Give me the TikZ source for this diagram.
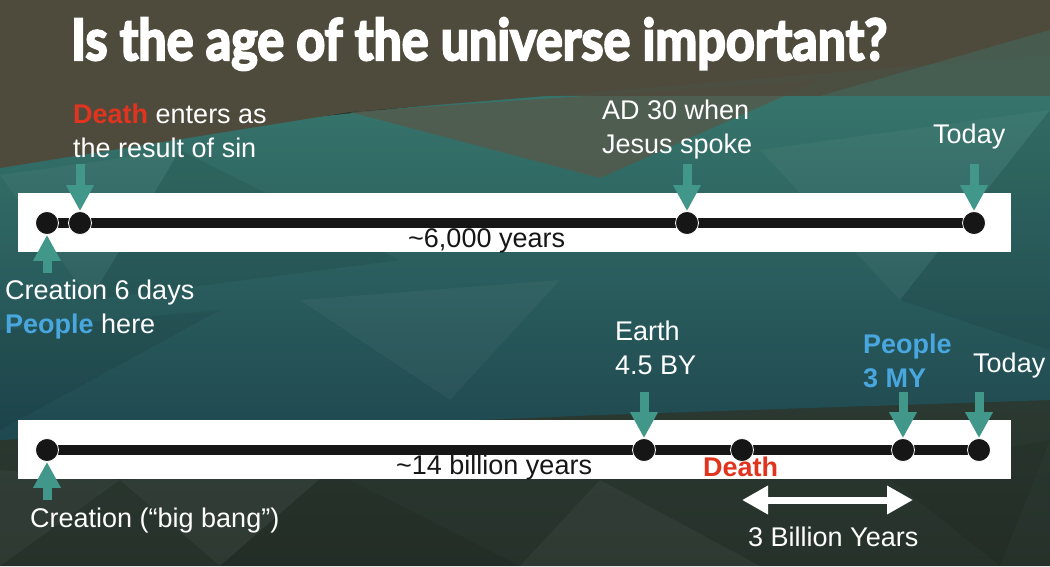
\documentclass[tikz,border=0pt]{standalone}
\usepackage{fontspec}
\usepackage{graphicx}
\setmainfont{Liberation Sans}
\newfontfamily\titlefont{Lato}[BoldFeatures={FakeBold=4}]
\usetikzlibrary{arrows.meta}
\pgfdeclarelayer{back}
\pgfdeclarelayer{mid}
\pgfsetlayers{back,mid,main}
\definecolor{olivebg}{HTML}{4E4B3D}
\definecolor{olivelt}{HTML}{55594A}
\definecolor{tealtop}{HTML}{3A7C70}
\definecolor{tealbot}{HTML}{1F4850}
\definecolor{darkbg}{HTML}{26312A}
\definecolor{darkbg2}{HTML}{2B3A32}
\definecolor{arrowteal}{HTML}{40978A}
\definecolor{deathred}{HTML}{E1341F}
\definecolor{peopleblue}{HTML}{49A7DF}
\definecolor{lineblack}{HTML}{161616}
\tikzset{
  lbl/.style={anchor=base west, inner sep=0pt, text=white, align=left,
    font=\fontsize{27}{33.5}\selectfont},
  boxlbl/.style={anchor=base west, inner sep=0pt, text=lineblack,
    font=\fontsize{27}{33.5}\selectfont},
  dot/.style={circle, minimum size=23pt, inner sep=0pt, fill=lineblack, draw=white, line width=0.8pt},
  pointer/.style={arrowteal, line width=9pt, -{Triangle[width=26pt,length=26pt]}},
  tline/.style={lineblack, line width=10pt},
  whitebox/.style={fill=white},
  span/.style={white, line width=7pt, {Triangle[width=27pt,length=26pt]}-{Triangle[width=27pt,length=26pt]}},
  tex/.style={fill=white, fill opacity=0.04},
  texd/.style={fill=black, fill opacity=0.07}
}
\begin{document}
\begin{tikzpicture}[x=1pt,y=-1pt]
\useasboundingbox (0,0) rectangle (1050,566);
\begin{pgfonlayer}{back}
% background
\fill[darkbg] (0,0) rectangle (1050,566);
\shade[top color=darkbg2, bottom color=darkbg] (0,420) -- (1050,380) -- (1050,566) -- (0,566) -- cycle;
\shade[top color=tealtop, bottom color=tealbot] (0,150) -- (1050,40) -- (1050,400) -- (600,415) -- (0,440) -- cycle;
\fill[olivebg] (0,0) -- (1050,0) -- (1050,55) -- (350,112) -- (0,168) -- cycle;
\fill[olivelt, opacity=0.8] (350,112) -- (820,80) -- (600,178) -- cycle;
\fill[olivebg, opacity=0.9] (0,0) rectangle (1050,96);
\fill[tealtop, opacity=0.35] (1050,30) -- (1050,96) -- (820,96) -- cycle;
% texture
\fill[tex] (0,175) -- (180,150) -- (90,300) -- cycle;
\fill[texd] (180,150) -- (400,260) -- (90,300) -- cycle;
\fill[tex] (760,150) -- (1050,110) -- (900,300) -- cycle;
\fill[texd] (900,300) -- (1050,110) -- (1050,350) -- cycle;
\fill[tex] (300,300) -- (560,280) -- (450,400) -- cycle;
\fill[texd] (0,330) -- (220,310) -- (0,430) -- cycle;
\fill[tex] (120,480) -- (330,470) -- (220,566) -- cycle;
\fill[texd] (330,470) -- (520,566) -- (220,566) -- cycle;
\fill[tex] (600,480) -- (760,566) -- (520,566) -- cycle;
\fill[texd] (880,470) -- (1050,440) -- (1000,566) -- cycle;
\fill[tex] (0,470) -- (120,480) -- (0,566) -- cycle;
% white boxes
\fill[whitebox] (18,193) rectangle (1011,252);
\fill[whitebox] (18,420) rectangle (1011,479);
\end{pgfonlayer}

% title
\node[anchor=base west, inner sep=0pt, text=white] (title) at (71,60)
  {\resizebox{816pt}{\height}{\fontsize{57}{60}\titlefont\bfseries Is the age of the universe important?}};

% top timeline
\node[dot] (t1) at (47,223) {};
\node[dot] (t2) at (80,223) {};
\node[dot] (t3) at (687,223) {};
\node[dot] (t4) at (974,223) {};
\begin{pgfonlayer}{mid}
\draw[tline] (t1.center) -- (t4.center);
\end{pgfonlayer}
\node[boxlbl] (ty) at (408,247) {\textasciitilde 6,000 years};

\node[lbl] (death1) at (73,157) {\textcolor{deathred}{\bfseries Death} enters as\\the result of sin};
\node[lbl] (ad30) at (602,153) {AD 30 when\\Jesus spoke};
\node[lbl] (today1) at (933,143) {Today};
\node[lbl] (crea1) at (5,333) {Creation 6 days\\\textcolor{peopleblue}{\bfseries People} here};

\coordinate (a2) at (80,164);
\coordinate (a3) at (687,164);
\coordinate (a4) at (974,164);
\coordinate (a1) at (47,273);
\draw[pointer] (a2) -- (t2.north);
\draw[pointer] (a3) -- (t3.north);
\draw[pointer] (a4) -- (t4.north);
\draw[pointer] (a1) -- (t1.south);

% bottom timeline
\node[dot] (b1) at (47,450) {};
\node[dot] (b2) at (644,450) {};
\node[dot] (b3) at (742,450) {};
\node[dot] (b4) at (903,450) {};
\node[dot] (b5) at (979,450) {};
\begin{pgfonlayer}{mid}
\draw[tline] (b1.center) -- (b5.center);
\end{pgfonlayer}
\node[boxlbl] (by) at (396,474) {\textasciitilde 14 billion years};
\node[boxlbl, text=deathred, font=\fontsize{27}{33.5}\selectfont\bfseries] (bdeath) at (703,476) {Death};

\node[lbl] (earth) at (615,374) {Earth\\4.5 BY};
\node[lbl, text=peopleblue, font=\fontsize{27}{33.5}\selectfont\bfseries] (people) at (863,387) {People\\3 MY};
\node[lbl] (today2) at (973,372) {Today};
\node[lbl] (crea2) at (30,527) {Creation (“big bang”)};

\coordinate (c2) at (644,392);
\coordinate (c4) at (903,392);
\coordinate (c5) at (979,392);
\coordinate (c1) at (47,500);
\draw[pointer] (c2) -- (b2.north);
\draw[pointer] (c4) -- (b4.north);
\draw[pointer] (c5) -- (b5.north);
\draw[pointer] (c1) -- (b1.south);

\coordinate (s1) at (742,500);
\coordinate (s2) at (913,500);
\draw[span] (s1) -- (s2);
\node[lbl] (three) at (748,546) {3 Billion Years};
\end{tikzpicture}
\end{document}
